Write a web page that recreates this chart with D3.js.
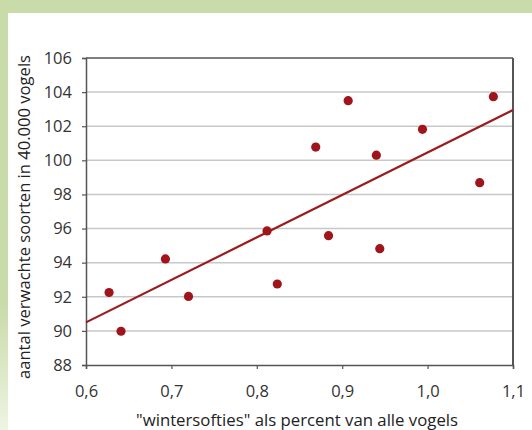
<!DOCTYPE html>
<html>
<head>
<meta charset="utf-8">
<script src="https://cdn.jsdelivr.net/npm/d3@7"></script>
<style>
  body { margin: 0; background: #fff; }
  svg { display: block; font-family: "Open Sans", "Noto Sans", sans-serif; }
</style>
</head>
<body>
<svg id="chart" width="532" height="430"></svg>
<script>
const xValues = [0.627, 0.641, 0.693, 0.720, 0.812, 0.824, 0.869, 0.884, 0.907, 0.940, 0.944, 0.994, 1.061, 1.077];
const yValues = [92.25, 89.98, 94.22, 92.02, 95.86, 92.75, 100.78, 95.58, 103.5, 100.3, 94.82, 101.82, 98.69, 103.73];
const trendX = [0.6, 1.1];
const trendY = [90.5, 102.95];
const xTicks = [0.6, 0.7, 0.8, 0.9, 1.0, 1.1];
const yTicks = [88, 90, 92, 94, 96, 98, 100, 102, 104, 106];

const svg = d3.select("#chart");
const W = 532, H = 430;

// green frame
svg.append("rect").attr("width", W).attr("height", H).attr("fill", "#c9dba8");
const grad = svg.append("defs").append("linearGradient")
  .attr("id", "fade").attr("x1", 0).attr("y1", 0).attr("x2", 0).attr("y2", 1);
grad.append("stop").attr("offset", "0.7").attr("stop-color", "#c9dba8");
grad.append("stop").attr("offset", "1").attr("stop-color", "#eef4e2");
svg.append("rect").attr("x", 0).attr("y", 12).attr("width", 9).attr("height", H - 12).attr("fill", "url(#fade)");
svg.append("rect").attr("x", 8).attr("y", 13).attr("width", W - 8).attr("height", H - 13).attr("fill", "#fff");

const pLeft = 86, pRight = 513, pTop = 58, pBottom = 365;

const x = d3.scaleLinear().domain([0.6, 1.1]).range([pLeft, pRight]);
const y = d3.scaleLinear().domain([88, 106]).range([pBottom, pTop]);

// gridlines
svg.append("g")
  .selectAll("line")
  .data(yTicks.slice(1, -1))
  .enter()
  .append("line")
  .attr("x1", pLeft).attr("x2", pRight)
  .attr("y1", (d) => y(d)).attr("y2", (d) => y(d))
  .attr("stroke", "#c8c8c8").attr("stroke-width", 1.5);

// frame top / right
svg.append("line").attr("x1", pLeft).attr("x2", pRight).attr("y1", pTop).attr("y2", pTop)
  .attr("stroke", "#555").attr("stroke-width", 1.5);
svg.append("line").attr("x1", pRight).attr("x2", pRight).attr("y1", pTop).attr("y2", pBottom)
  .attr("stroke", "#555").attr("stroke-width", 2);

const xAxis = d3.axisBottom(x).tickValues(xTicks).tickSize(4).tickPadding(16)
  .tickFormat((d) => d3.format(".1f")(d).replace(".", ","));
const yAxis = d3.axisLeft(y).tickValues(yTicks).tickSize(4).tickPadding(10)
  .tickFormat((d) => d);

const gx = svg.append("g").attr("transform", `translate(0, ${pBottom})`).call(xAxis);
const gy = svg.append("g").attr("transform", `translate(${pLeft}, 0)`).call(yAxis);

[gx, gy].forEach((g) => {
  g.select(".domain").attr("stroke", "#555").attr("stroke-width", 1.5);
  g.selectAll(".tick line").attr("stroke", "#555").attr("stroke-width", 1.2);
  g.selectAll(".tick text").attr("fill", "#333").attr("font-size", 16.5)
    .attr("font-family", "'Open Sans', 'Noto Sans', sans-serif");
});

// trend line
svg.append("line")
  .attr("x1", x(trendX[0])).attr("y1", y(trendY[0]))
  .attr("x2", x(trendX[1])).attr("y2", y(trendY[1]))
  .attr("stroke", "#9b1b1f").attr("stroke-width", 2.2);

// points
svg.append("g")
  .selectAll("circle")
  .data(xValues.map((d, i) => [d, yValues[i]]))
  .enter()
  .append("circle")
  .attr("cx", (d) => x(d[0]))
  .attr("cy", (d) => y(d[1]))
  .attr("r", 4.6)
  .attr("fill", "#a0141c");

// axis titles
svg.append("text")
  .attr("x", 297).attr("y", 426)
  .attr("text-anchor", "middle")
  .attr("font-size", 16.5).attr("fill", "#222")
  .attr("textLength", 322).attr("lengthAdjust", "spacingAndGlyphs")
  .text("\"wintersofties\" als percent van alle vogels");

svg.append("text")
  .attr("transform", `translate(30, 217) rotate(-90)`)
  .attr("text-anchor", "middle")
  .attr("font-size", 16.5).attr("fill", "#222")
  .attr("textLength", 324).attr("lengthAdjust", "spacingAndGlyphs")
  .text("aantal verwachte soorten in 40.000 vogels");
</script>
</body>
</html>
